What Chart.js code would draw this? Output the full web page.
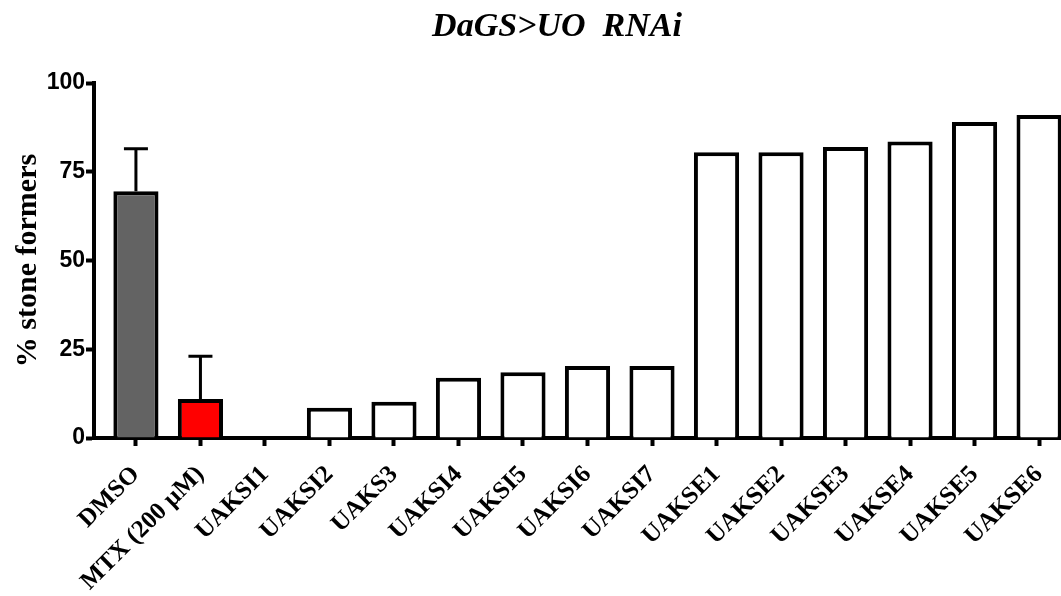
<!DOCTYPE html>
<html>
<head>
<meta charset="utf-8">
<script src="https://cdn.jsdelivr.net/npm/chart.js@4"></script>
<style>
  body { margin: 0; background: #fff; overflow: hidden; }
</style>
</head>
<body>
<canvas id="myChart" width="1061" height="596"></canvas>
<script>
const labels = [
  'DMSO', 'MTX (200 µM)', 'UAKSI1', 'UAKSI2', 'UAKS3', 'UAKSI4', 'UAKSI5',
  'UAKSI6', 'UAKSI7', 'UAKSE1', 'UAKSE2', 'UAKSE3', 'UAKSE4', 'UAKSE5', 'UAKSE6',
];
const stoneFormers = [69.5, 11, 0, 8.5, 10.2, 17, 18.5, 20.3, 20.3, 80.5, 80.5, 82, 83.5, 89, 91];
const errUp = [12, 12, 0, 0, 0, 0, 0, 0, 0, 0, 0, 0, 0, 0, 0];
const yTicks = [0, 25, 50, 75, 100];
const chartTitle = 'DaGS>UO  RNAi';

const ctx = document.getElementById('myChart');

//titulo en cursiva, un poco a la derecha del centro
const titlePlugin = {
  id: 'titlePlugin',
  afterDraw(chart) {
    const c = chart.ctx;
    c.save();
    c.font = 'italic bold 34px "Liberation Serif"';
    c.fillStyle = '#000';
    c.textAlign = 'center';
    c.textBaseline = 'middle';
    c.fillText(chartTitle, 557, 27);
    c.restore();
  },
};

//barras de error hacia arriba
const errorBars = {
  id: 'errorBars',
  afterDatasetsDraw(chart) {
    const c = chart.ctx;
    const xs = chart.scales.x;
    const ys = chart.scales.y;
    c.save();
    c.strokeStyle = '#000';
    c.lineWidth = 3;
    errUp.forEach((e, i) => {
      if (!e) return;
      const x = xs.getPixelForValue(i);
      const y0 = ys.getPixelForValue(stoneFormers[i]);
      const y1 = ys.getPixelForValue(stoneFormers[i] + e);
      c.beginPath();
      c.moveTo(x, y0);
      c.lineTo(x, y1);
      c.moveTo(x - 12, y1);
      c.lineTo(x + 12, y1);
      c.stroke();
    });
    c.restore();
  },
};

new Chart(ctx, {
  type: 'bar',
  data: {
    datasets: [
      {
        data: stoneFormers.map((v, i) => ({ x: i, y: v })),
        backgroundColor: ['#636363', '#ff0000'].concat(Array(13).fill('#ffffff')),
        borderColor: '#000',
        borderWidth: 4,
        borderSkipped: 'bottom',
        barPercentage: 0.7,
        categoryPercentage: 1,
      },
    ],
  },
  options: {
    responsive: false,
    animation: false,
    layout: { padding: { top: 83, right: 0, left: 0, bottom: 0 } },
    plugins: {
      legend: { display: false },
      tooltip: { enabled: false },
    },
    scales: {
      x: {
        type: 'linear',
        offset: false,
        min: -0.65,
        max: 14.34,
        afterBuildTicks: (scale) => {
          scale.ticks = labels.map((_, i) => ({ value: i }));
        },
        afterFit: (scale) => {
          scale.height = 158;
          scale.paddingLeft = 0;
          scale.paddingRight = 0;
        },
        border: { display: true, color: '#000', width: 4 },
        grid: {
          offset: false,
          drawOnChartArea: false,
          drawTicks: true,
          tickLength: 8,
          tickWidth: 4,
          tickColor: '#000',
        },
        ticks: {
          autoSkip: false,
          maxRotation: 45,
          minRotation: 45,
          padding: 14,
          color: '#000',
          font: { family: '"Liberation Serif"', size: 25, weight: 'bold' },
          callback: (v) => labels[v],
        },
      },
      y: {
        min: 0,
        max: 100,
        afterBuildTicks: (scale) => {
          scale.ticks = yTicks.map((v) => ({ value: v }));
        },
        afterFit: (scale) => {
          scale.width = 94;
        },
        border: { display: true, color: '#000', width: 4 },
        grid: {
          drawOnChartArea: false,
          drawTicks: true,
          tickLength: 8,
          tickWidth: 4,
          tickColor: '#000',
        },
        ticks: {
          padding: 1,
          color: '#000',
          font: { family: '"Liberation Sans"', size: 23, weight: 'bold' },
        },
        title: {
          display: true,
          text: '% stone formers',
          color: '#000',
          padding: { top: 10, bottom: 0 },
          font: { family: '"Liberation Serif"', size: 30, weight: 'bold' },
        },
      },
    },
  },
  plugins: [titlePlugin, errorBars],
});
</script>
</body>
</html>
